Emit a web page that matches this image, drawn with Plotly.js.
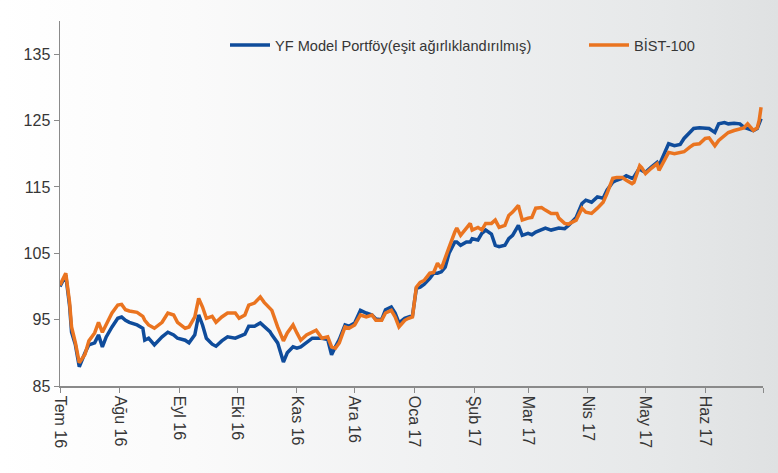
<!DOCTYPE html>
<html>
<head>
<meta charset="utf-8">
<script src="https://cdn.plot.ly/plotly-3.0.1.min.js"></script>
<style>
  html, body { margin: 0; padding: 0; background: #ffffff; }
  #chart { width: 778px; height: 473px; }
</style>
</head>
<body>
<div id="chart"></div>
<script>
const dates = [
  "2016-07-01","2016-07-04","2016-07-06","2016-07-07","2016-07-09","2016-07-11","2016-07-14","2016-07-16","2016-07-19","2016-07-21",
  "2016-07-23","2016-07-25","2016-07-28","2016-07-31","2016-08-02","2016-08-04","2016-08-06","2016-08-10","2016-08-13","2016-08-14",
  "2016-08-16","2016-08-19","2016-08-23","2016-08-26","2016-08-29","2016-08-31","2016-09-04","2016-09-06","2016-09-09","2016-09-11",
  "2016-09-13","2016-09-15","2016-09-18","2016-09-20","2016-09-23","2016-09-26","2016-09-30","2016-10-02","2016-10-05","2016-10-07",
  "2016-10-10","2016-10-13","2016-10-15","2016-10-18","2016-10-19","2016-10-22","2016-10-25","2016-10-27","2016-10-30","2016-11-01",
  "2016-11-03","2016-11-06","2016-11-09","2016-11-11","2016-11-14","2016-11-17","2016-11-19","2016-11-21","2016-11-23","2016-11-26",
  "2016-11-28","2016-12-01","2016-12-04","2016-12-07","2016-12-10","2016-12-12","2016-12-15","2016-12-17","2016-12-20","2016-12-22",
  "2016-12-24","2016-12-27","2016-12-29","2016-12-31","2017-01-02","2017-01-04","2017-01-06","2017-01-09","2017-01-11","2017-01-13",
  "2017-01-15","2017-01-17","2017-01-19","2017-01-22","2017-01-23","2017-01-25","2017-01-28","2017-01-30","2017-01-31","2017-02-03",
  "2017-02-05","2017-02-07","2017-02-10","2017-02-12","2017-02-14","2017-02-17","2017-02-19","2017-02-21","2017-02-24","2017-02-26",
  "2017-03-01","2017-03-03","2017-03-05","2017-03-08","2017-03-10","2017-03-13","2017-03-16","2017-03-17","2017-03-20","2017-03-22",
  "2017-03-26","2017-03-29","2017-03-31","2017-04-03","2017-04-06","2017-04-09","2017-04-11","2017-04-14","2017-04-16","2017-04-19",
  "2017-04-21","2017-04-24","2017-04-25","2017-04-28","2017-04-29","2017-05-01","2017-05-04","2017-05-07","2017-05-08","2017-05-11",
  "2017-05-13","2017-05-16","2017-05-19","2017-05-21","2017-05-24","2017-05-26","2017-05-29","2017-06-01","2017-06-03","2017-06-06",
  "2017-06-08","2017-06-11","2017-06-13","2017-06-16","2017-06-19","2017-06-21","2017-06-23","2017-06-25","2017-06-26","2017-06-28",
  "2017-06-29","2017-06-30"
];

const modelValues = [
  100.0,101.7,97.0,93.1,91.2,87.9,90.0,91.2,91.5,92.7,
  90.9,92.4,93.9,95.2,95.4,94.9,94.6,94.2,93.7,91.9,
  92.2,91.2,92.4,93.1,92.7,92.2,91.9,91.5,92.7,95.7,
  94.2,92.2,91.3,91.0,91.8,92.4,92.2,92.4,92.8,94.0,
  94.0,94.5,94.0,93.2,92.7,91.5,88.6,90.0,90.9,90.7,
  90.9,91.5,92.2,92.2,92.2,92.0,89.7,90.9,92.0,94.2,
  94.0,94.5,96.4,96.0,95.7,95.1,95.0,96.5,96.9,96.0,
  94.5,95.2,95.4,95.6,99.7,99.9,100.3,101.2,102.0,102.0,
  102.2,102.9,105.0,106.7,106.7,106.2,106.7,106.7,107.2,107.0,
  108.0,108.5,107.9,106.2,106.0,106.2,107.2,107.7,109.2,107.7,
  108.0,107.8,108.2,108.5,108.8,108.5,108.8,108.8,108.7,109.2,
  110.4,112.5,113.0,112.7,113.5,113.3,114.5,115.7,116.0,116.3,
  116.7,116.3,116.5,117.9,117.5,117.2,118.0,118.7,118.2,120.0,
  121.5,121.2,121.4,122.3,123.3,123.8,123.9,123.9,123.8,123.2,
  124.5,124.7,124.5,124.6,124.5,124.0,123.8,123.6,123.5,123.8,
  124.5,125.3
];

const bistValues = [
  100.2,102.0,97.5,93.9,91.5,88.5,89.8,91.8,93.0,94.6,
  93.1,94.2,96.0,97.2,97.3,96.5,96.3,96.1,95.5,94.9,
  94.2,93.7,94.6,96.0,95.7,94.6,93.7,93.9,95.4,98.2,
  96.9,95.2,95.5,94.6,95.4,96.0,96.0,95.2,95.7,97.2,
  97.5,98.4,97.6,96.7,96.4,93.9,91.8,93.0,94.2,93.0,
  91.9,92.7,93.1,93.4,92.2,92.4,90.9,90.7,91.5,93.9,
  93.7,94.2,95.7,95.4,95.7,94.9,94.9,96.0,96.4,95.4,
  93.9,94.9,95.2,95.4,99.9,100.6,100.9,102.0,102.1,103.5,
  102.7,104.4,105.9,108.2,108.8,107.7,108.9,109.5,108.5,108.9,
  108.5,109.5,109.5,110.0,108.9,109.2,110.7,111.2,112.2,110.0,
  110.3,110.4,111.8,111.9,111.5,111.0,111.0,110.3,109.5,109.4,
  110.0,111.8,111.2,111.0,111.8,112.7,114.0,116.3,116.4,116.4,
  116.0,115.5,115.7,118.2,117.9,117.0,117.8,118.5,117.5,119.0,
  120.2,120.0,120.1,120.3,121.0,121.4,121.5,122.3,122.4,121.2,
  122.0,122.7,123.2,123.5,123.8,123.9,124.5,123.8,123.5,123.9,
  125.0,127.0
];

const tickDates = ["2016-07-01","2016-08-01","2016-09-01","2016-10-01","2016-11-01","2016-12-01",
  "2017-01-01","2017-02-01","2017-03-01","2017-04-01","2017-05-01","2017-06-01","2017-07-01"];
const tickLabels = ["Tem 16","Ağu 16","Eyl 16","Eki 16","Kas 16","Ara 16","Oca 17","Şub 17","Mar 17","Nis 17","May 17","Haz 17",""];
const yTicks = [85, 95, 105, 115, 125, 135];

const seriesNames = ["YF Model Portföy(eşit ağırlıklandırılmış)", "BİST-100"];

const FONT = '"Liberation Sans", Arial, sans-serif';
const TXT = '#363636';

const bgSvg = '<svg xmlns="http://www.w3.org/2000/svg" width="778" height="473" preserveAspectRatio="none">' +
  '<defs><linearGradient id="g" x1="0" y1="0" x2="1" y2="0">' +
  '<stop offset="0" stop-color="#ffffff"/><stop offset="0.25" stop-color="#fafafa"/>' +
  '<stop offset="0.55" stop-color="#f0f1f2"/><stop offset="0.85" stop-color="#e6e8e9"/>' +
  '<stop offset="1" stop-color="#dfe1e2"/></linearGradient></defs>' +
  '<rect width="778" height="473" fill="url(#g)"/></svg>';
const bgUri = 'data:image/svg+xml;charset=utf-8,' + encodeURIComponent(bgSvg);

const traces = [
  { x: dates, y: modelValues, name: seriesNames[0], type: 'scatter', mode: 'lines',
    line: { color: '#0f4c9b', width: 3.5 }, legend: 'legend' },
  { x: dates, y: bistValues, name: seriesNames[1], type: 'scatter', mode: 'lines',
    line: { color: '#ea7420', width: 3.5 }, legend: 'legend2' }
];

const PW = 703, PH = 365, ML = 60, MT = 21;

const legendCommon = {
  orientation: 'h', xanchor: 'left', yanchor: 'middle', y: (386 - 45) / PH,
  bgcolor: 'rgba(0,0,0,0)', font: { family: FONT, size: 14.6, color: TXT }, itemwidth: 40
};

const layout = {
  width: 778, height: 473,
  margin: { l: ML, r: 15, t: MT, b: 87 },
  paper_bgcolor: '#ffffff',
  plot_bgcolor: 'rgba(0,0,0,0)',
  font: { family: FONT, size: 16, color: TXT },
  showlegend: true,
  legend: Object.assign({}, legendCommon, { x: (225 - ML) / PW }),
  legend2: Object.assign({}, legendCommon, { x: (584 - ML) / PW }),
  images: [{
    source: bgUri, xref: 'paper', yref: 'paper',
    x: -ML / PW, y: 1 + MT / PH, sizex: 778 / PW, sizey: 473 / PH,
    xanchor: 'left', yanchor: 'top', sizing: 'stretch', layer: 'below'
  }],
  xaxis: {
    type: 'date', range: ['2016-07-01', '2017-07-01'],
    tickmode: 'array', tickvals: tickDates, ticktext: tickLabels,
    tickangle: 90, ticks: 'outside', ticklen: 5, tickcolor: '#8a8a8a', tickwidth: 1,
    showline: true, linecolor: '#8a8a8a', linewidth: 1.5,
    showgrid: false, zeroline: false,
    tickfont: { family: FONT, size: 16, color: TXT }
  },
  yaxis: {
    range: [85, 140], tickmode: 'array', tickvals: yTicks,
    ticks: 'outside', ticklen: 5, tickcolor: '#8a8a8a', tickwidth: 1,
    showline: true, linecolor: '#8a8a8a', linewidth: 1.5,
    showgrid: false, zeroline: false,
    tickfont: { family: FONT, size: 16, color: TXT }
  }
};

Plotly.newPlot('chart', traces, layout, { displayModeBar: false, staticPlot: true });
</script>
</body>
</html>
